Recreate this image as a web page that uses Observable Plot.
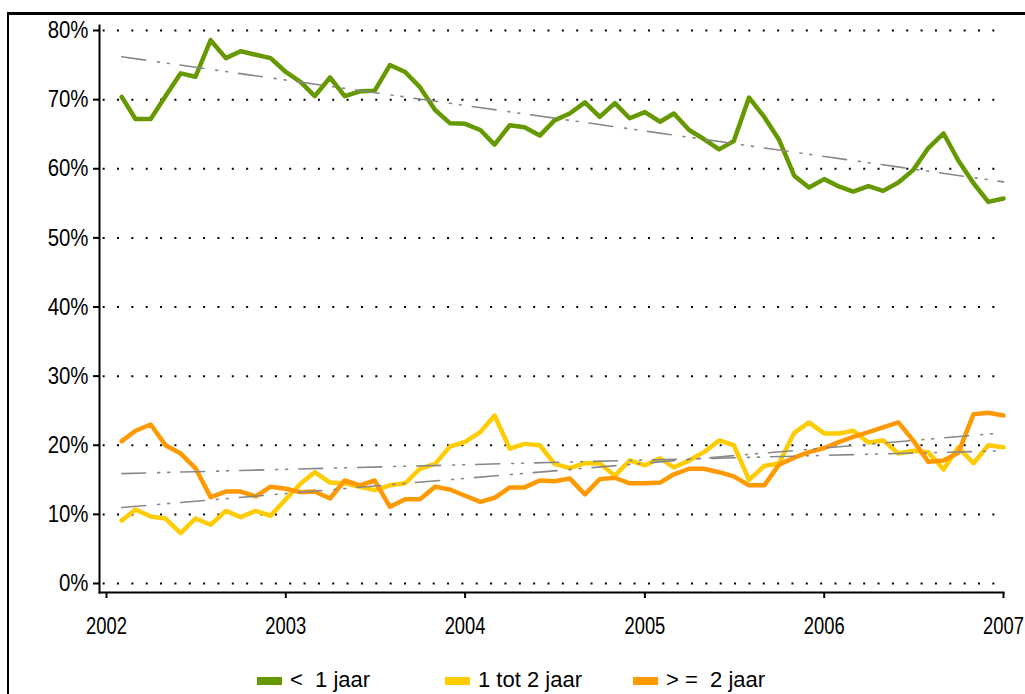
<!DOCTYPE html>
<html>
<head>
<meta charset="utf-8">
<script src="https://cdn.jsdelivr.net/npm/d3@7"></script>
<script src="https://cdn.jsdelivr.net/npm/@observablehq/plot@0.6"></script>
<style>
  html, body { margin: 0; padding: 0; background: #fff; overflow: hidden; width: 1025px; height: 694px; }
  #frame { position: absolute; left: 7px; top: 12px; width: 1100px; height: 800px;
           border-left: 2px solid #000; border-top: 3px solid #000; box-sizing: border-box; }
  #chart { position: absolute; left: 0; top: 0; }
  #legend { position: absolute; top: 667px; left: 0; width: 1025px; height: 26px;
            font-family: "Liberation Sans Narrow", "Arial Narrow", "Liberation Sans", sans-serif; font-size: 22px; color: #000; }
  .sw { position: absolute; top: 10px; width: 25px; height: 8px; }
  .lbl { position: absolute; top: 0; white-space: pre; line-height: 26px; }
</style>
</head>
<body>
<div id="frame"></div>
<div id="chart"></div>
<div id="legend"></div>
<script>
// Monthly observations, Feb 2002 .. Jan 2007 (60 months)
const startMonth = "2002-02-01";
const monthCount = 60;

const seriesNames = ["<  1 jaar", "1 tot 2 jaar", "> =  2 jaar"];
const seriesColors = ["#669900", "#FFCC00", "#FF9900"];

const lessThan1 = [
  70.4, 67.2, 67.2, 70.5, 73.8, 73.3, 78.6, 76.0, 77.0, 76.5,
  76.0, 74.0, 72.5, 70.5, 73.2, 70.5, 71.2, 71.3, 75.0, 74.0,
  71.8, 68.5, 66.6, 66.5, 65.6, 63.5, 66.3, 66.0, 64.8, 67.0,
  68.0, 69.6, 67.5, 69.5, 67.3, 68.2, 66.8, 68.0, 65.6, 64.3,
  62.8, 64.0, 70.3, 67.5, 64.2, 59.0, 57.3, 58.5, 57.4, 56.7,
  57.5, 56.8, 58.0, 59.8, 63.0, 65.1, 61.2, 57.9, 55.2, 55.7
];
const oneTo2 = [
   9.1, 10.7,  9.7,  9.4,  7.3,  9.4,  8.5, 10.5,  9.6, 10.5,
   9.8, 12.2, 14.5, 16.1, 14.6, 14.5, 14.0, 13.5, 14.2, 14.5,
  16.6, 17.3, 19.8, 20.5, 21.9, 24.3, 19.5, 20.2, 20.0, 17.3,
  16.7, 17.4, 17.4, 15.6, 17.8, 17.1, 18.1, 16.8, 17.8, 19.0,
  20.7, 20.0, 15.0, 17.0, 17.4, 21.8, 23.3, 21.7, 21.7, 22.1,
  20.4, 20.7, 18.8, 19.2, 19.0, 16.5, 19.7, 17.4, 20.0, 19.7
];
const twoPlus = [
  20.6, 22.1, 23.0, 20.0, 18.8, 16.7, 12.5, 13.3, 13.3, 12.6,
  14.0, 13.7, 13.2, 13.3, 12.3, 14.9, 14.2, 14.9, 11.1, 12.2,
  12.2, 14.0, 13.6, 12.7, 11.8, 12.4, 13.9, 13.9, 14.9, 14.8,
  15.2, 12.9, 15.1, 15.3, 14.5, 14.5, 14.6, 15.8, 16.6, 16.6,
  16.1, 15.5, 14.2, 14.2, 17.2, 18.2, 19.0, 19.6, 20.5, 21.2,
  21.9, 22.6, 23.3, 20.7, 17.6, 17.8, 18.9, 24.5, 24.7, 24.3
];

// trend lines (start and end values)
const trendStart = [76.2, 11.0, 15.9];
const trendEnd   = [58.1, 21.8, 19.2];

const yTicks = [0, 10, 20, 30, 40, 50, 60, 70, 80];
const xTickYears = [2002, 2003, 2004, 2005, 2006, 2007];

// build tables
const months = d3.utcMonth.every(1).range(new Date(startMonth), d3.utcMonth.offset(new Date(startMonth), monthCount));
const allSeries = [lessThan1, oneTo2, twoPlus];
const data = [];
allSeries.forEach((vals, s) => {
  vals.forEach((v, i) => data.push({date: months[i], value: v, series: seriesNames[s]}));
});
const trends = [];
seriesNames.forEach((name, s) => {
  trends.push({date: months[0], value: trendStart[s], series: name});
  trends.push({date: months[months.length - 1], value: trendEnd[s], series: name});
});
const xTicks = xTickYears.map(y => new Date(Date.UTC(y, 0, 1)));

const font = '"Liberation Sans", Arial, sans-serif';

const chart = Plot.plot({
  width: 1025,
  height: 650,
  marginLeft: 99,
  marginRight: 22,
  marginTop: 25,
  marginBottom: 58,
  style: {fontFamily: font, fontSize: "24px", color: "#000", background: "transparent", overflow: "visible"},
  x: {type: "utc", domain: [xTicks[0], xTicks[xTicks.length - 1]], insetLeft: 7},
  y: {domain: [0, 80], insetTop: 5, insetBottom: 9},
  color: {domain: seriesNames, range: seriesColors},
  marks: [
    Plot.gridY(yTicks, {stroke: "#000", strokeOpacity: 1, strokeWidth: 2, strokeDasharray: "2 12.35", strokeDashoffset: -18}),
    Plot.line(data, {x: "date", y: "value", z: "series", stroke: "series", strokeWidth: 4.5, strokeLinejoin: "round", strokeLinecap: "round"}),
    Plot.line(trends, {x: "date", y: "value", z: "series", stroke: "#888", strokeWidth: 1.6, strokeDasharray: "24 12 2 8 2 11"}),
    Plot.frame({anchor: "left", stroke: "#000", strokeWidth: 2}),
    Plot.frame({anchor: "bottom", stroke: "#000", strokeWidth: 2}),
    Plot.axisY(yTicks, {tickSize: 6, tickPadding: 5, tickFormat: d => d + "%", label: null, strokeWidth: 2, fontSize: 24}),
    Plot.axisX(xTicks, {tickSize: 6, tickPadding: 19, tickFormat: d3.utcFormat("%Y"), label: null, strokeWidth: 2, fontSize: 23})
  ]
});
document.getElementById("chart").appendChild(chart);

// condense axis labels horizontally (the original uses a narrow typeface)
d3.select(chart).selectAll("text").each(function() {
  const isX = /^\d{4}$/.test(this.textContent);
  const k = isX ? 0.8 : 0.85;
  const t = this.getAttribute("transform");
  if (t) {
    this.setAttribute("transform", t + ` scale(${k},1)`);
  } else {
    const x = +this.getAttribute("x") || 0;
    this.setAttribute("transform", `translate(${x},0) scale(${k},1) translate(${-x},0)`);
  }
});

// legend
const legend = document.getElementById("legend");
const legendX = [257, 445, 633];
seriesNames.forEach((name, i) => {
  const sw = document.createElement("div");
  sw.className = "sw";
  sw.style.left = legendX[i] + "px";
  sw.style.background = seriesColors[i];
  legend.appendChild(sw);
  const lb = document.createElement("div");
  lb.className = "lbl";
  lb.style.left = (legendX[i] + 33) + "px";
  lb.textContent = name;
  legend.appendChild(lb);
});
</script>
</body>
</html>
